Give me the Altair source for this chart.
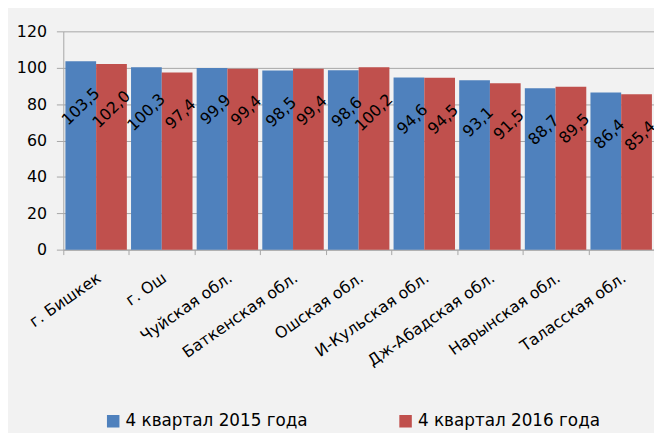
import altair as alt
import pandas as pd

categories = ["г. Бишкек", "г. Ош", "Чуйская обл.", "Баткенская обл.", "Ошская обл.",
              "И-Кульская обл.", "Дж-Абадская обл.", "Нарынская обл.", "Таласская обл."]
series = ["4 квартал 2015 года", "4 квартал 2016 года"]
values_2015 = [103.5, 100.3, 99.9, 98.5, 98.6, 94.6, 93.1, 88.7, 86.4]
values_2016 = [102.0, 97.4, 99.4, 99.4, 100.2, 94.5, 91.5, 89.5, 85.4]
y_ticks = [0, 20, 40, 60, 80, 100, 120]
colors = ["#4f81bd", "#c0504d"]

rows = []
for c, a, b in zip(categories, values_2015, values_2016):
    rows.append({"region": c, "series": series[0], "value": a})
    rows.append({"region": c, "series": series[1], "value": b})
df = pd.DataFrame(rows)

FONT = "DejaVu Sans"

x_enc = alt.X("region:N", sort=categories, title=None,
              scale=alt.Scale(paddingInner=0, paddingOuter=0),
              axis=alt.Axis(labelAngle=-35, labelAlign="right", labelBaseline="top",
                            labelFont=FONT, labelFontSize=16, labelColor="#000000",
                            labelPadding=15, labelOffset=-2,
                            tickBand="extent", ticks=True, tickSize=5, tickColor="#a6a6a6",
                            domainColor="#a6a6a6", grid=False, labelOverlap=False))
xoff = alt.XOffset("series:N", sort=series,
                   scale=alt.Scale(paddingInner=0, paddingOuter=0.068))
y_enc = alt.Y("value:Q", title=None,
              scale=alt.Scale(domain=[0, 120], nice=False),
              axis=alt.Axis(values=y_ticks, labelFont=FONT, labelFontSize=16,
                            labelColor="#000000", labelPadding=10, labelOverlap=False,
                            tickSize=7, tickColor="#a6a6a6", domainColor="#a6a6a6",
                            grid=True, gridColor="#a6a6a6"))

bars = alt.Chart(df).mark_bar().encode(
    x=x_enc, xOffset=xoff, y=y_enc,
    color=alt.Color("series:N", sort=series,
                    scale=alt.Scale(domain=series, range=colors),
                    legend=alt.Legend(title=None, orient="none", legendX=42, legendY=386,
                                      direction="horizontal", symbolType="square",
                                      symbolSize=160, symbolStrokeWidth=0,
                                      labelFont=FONT, labelFontSize=17, labelColor="#000000",
                                      labelLimit=400,
                                      columnPadding=90, labelOffset=4, padding=0)),
)

labels = alt.Chart(df).transform_calculate(
    label="replace(format(datum.value, '.1f'), '.', ',')"
).mark_text(angle=316, align="right", baseline="middle", dx=-9, dy=33,
            font=FONT, fontSize=16, color="#000000").encode(
    x=x_enc, xOffset=xoff, y=y_enc,
    text="label:N",
)

chart = alt.layer(bars, labels).properties(
    width=598, height=221,
    autosize=alt.AutoSizeParams(type="none"),
    padding={"left": 56, "top": 21, "right": 0, "bottom": 183},
    background="#f2f2f2",
).configure_view(stroke=None)

chart.save("out.html", embed_options={"renderer": "svg", "actions": False})
